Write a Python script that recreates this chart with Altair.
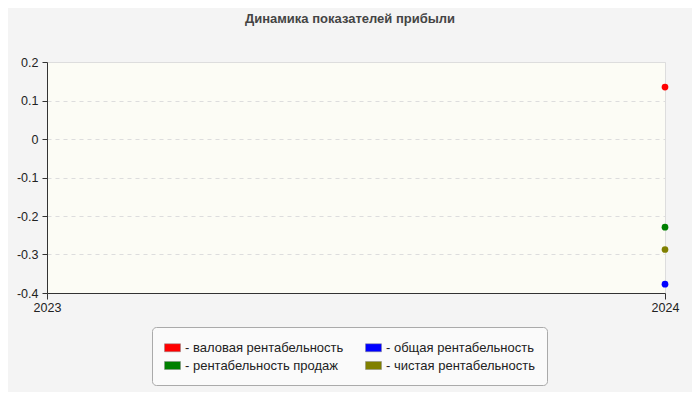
import altair as alt
import pandas as pd

years = [2023, 2024]
# order chosen so the 2-column legend reads row-wise like the reference
series_names = [
    "валовая рентабельность",
    "рентабельность продаж",
    "общая рентабельность",
    "чистая рентабельность",
]
series_colors = ["#ff0000", "#008000", "#0000ff", "#808000"]
gross = [None, 0.135]
sales = [None, -0.229]
total = [None, -0.377]
net = [None, -0.287]

rows = []
for name, vals in zip(series_names, [gross, sales, total, net]):
    for y, v in zip(years, vals):
        if v is not None:
            rows.append({"year": y, "series": name, "value": v})
df = pd.DataFrame(rows)

chart = alt.Chart(df).mark_point(filled=True, size=45, opacity=1).encode(
    x=alt.X("year:Q",
            scale=alt.Scale(domain=[2023, 2024], nice=False, zero=False),
            axis=alt.Axis(values=years, format="d", title=None, grid=False,
                          labelFlush=False,
                          domainColor="#333", tickColor="#333", labelColor="#222",
                          labelFontSize=12.5, labelFont="Liberation Sans", tickSize=6,
                          labelPadding=2)),
    y=alt.Y("value:Q",
            scale=alt.Scale(domain=[-0.4, 0.2], nice=False, zero=False),
            axis=alt.Axis(values=[-0.4, -0.3, -0.2, -0.1, 0, 0.1, 0.2], title=None,
                          labelExpr="datum.value == 0 ? '0' : toString(round(datum.value*10)/10)",
                          grid=True, gridDash=[4, 4], gridColor="#dddddd",
                          domainColor="#333", tickColor="#333", labelColor="#222",
                          labelFontSize=12.5, labelFont="Liberation Sans", tickSize=5,
                          labelPadding=4)),
    color=alt.Color("series:N",
                    scale=alt.Scale(domain=series_names, range=series_colors),
                    legend=alt.Legend(
                        title=None, orient="none", legendX=105, legendY=265,
                        columns=2, columnPadding=20, rowPadding=2,
                        labelExpr="'- ' + datum.label",
                        labelFontSize=13, labelFont="Liberation Sans", labelColor="#222",
                        symbolType="M-1,-0.5 L1,-0.5 L1,0.5 L-1,0.5 Z",
                        symbolSize=256, symbolStrokeColor="#888", symbolStrokeWidth=0.5,
                        symbolOpacity=1, labelOffset=4,
                        fillColor="#fafafa", strokeColor="#aaaaaa", cornerRadius=4,
                        padding=12)),
).properties(
    width=618,
    height=231,
    padding={"left": 39, "top": 54, "right": 27, "bottom": 99},
    autosize=alt.AutoSizeParams(type="none"),
    background="#f4f4f4",
    title=alt.TitleParams("Динамика показателей прибыли", fontSize=13,
                          font="Liberation Sans", fontWeight="bold",
                          color="#444", offset=30, dx=-6),
).configure_view(
    fill="#fcfcf5", stroke="#dddddd"
)

chart.save("out.html", embed_options={"renderer": "svg", "actions": False})
